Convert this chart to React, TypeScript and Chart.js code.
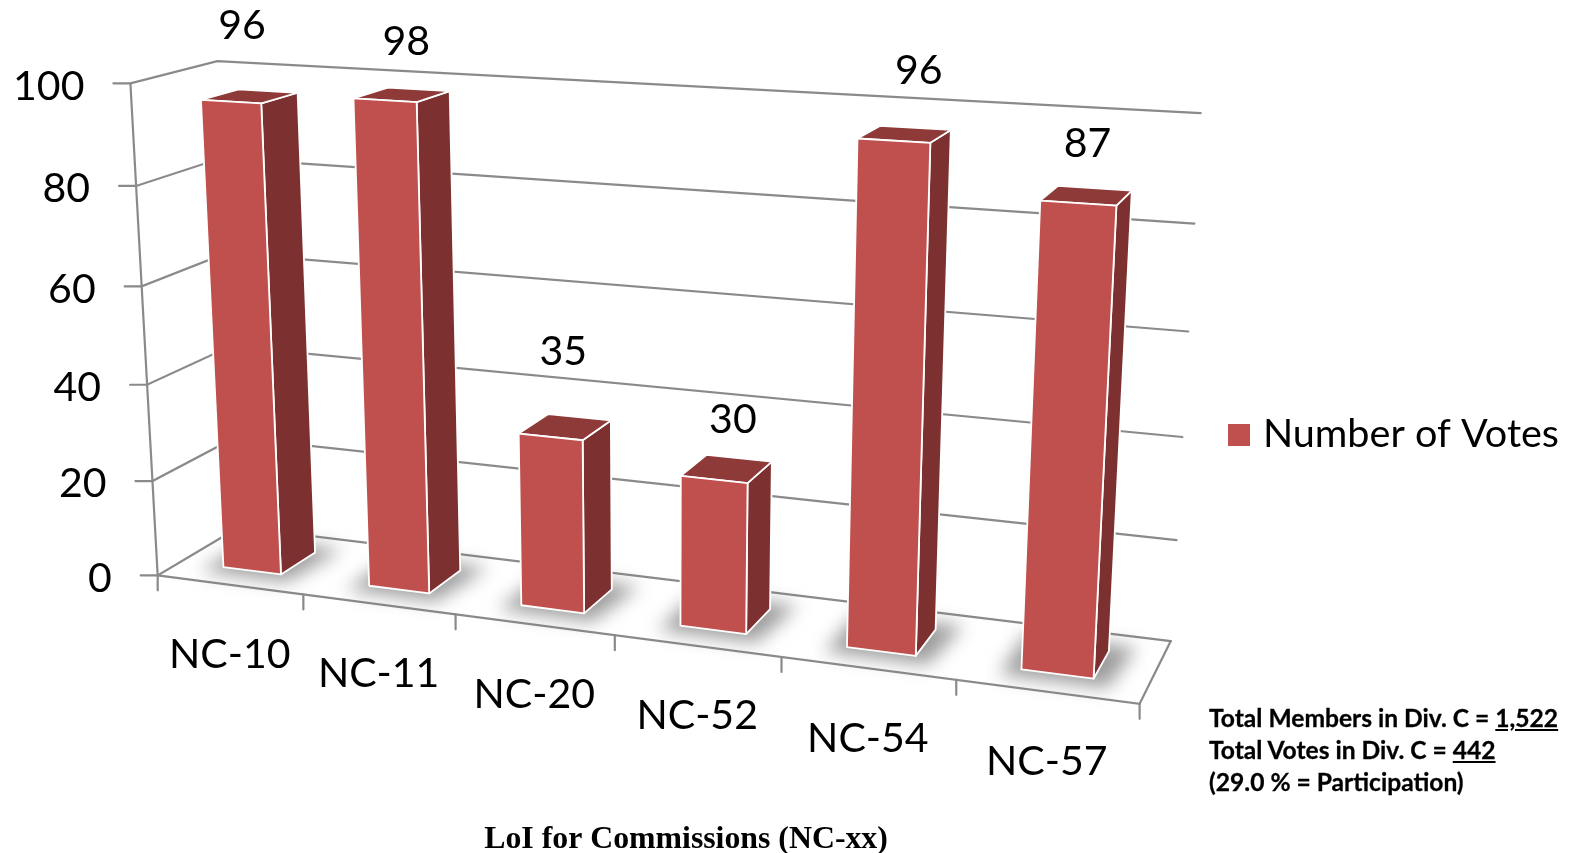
import React, { useEffect, useRef } from "react";
import { Chart, registerables } from "chart.js";

Chart.register(...registerables);

const categories = ["NC-10", "NC-11", "NC-20", "NC-52", "NC-54", "NC-57"];
const votes = [96, 98, 35, 30, 96, 87];
const seriesName = "Number of Votes";
const axisTitle = "LoI for Commissions (NC-xx)";
const noteMembers = 1522;
const noteVotes = 442;
const noteParticipation = "29.0";

// Camera calibration: box coordinates (u along categories, v up, w into the page) -> page pixels.
const CAMERA: number[][] = [
  [0, 0, 0, 158, 575],
  [1 / 6, 0, 0, 303, 595],
  [2 / 6, 0, 0, 455, 615],
  [5 / 6, 0, 0, 956, 680],
  [1, 0, 0, 1140, 703],
  [1, 0, 1, 1171, 641],
  [0, 0, 1, 239, 527],
  [0, 1, 0, 130, 83],
  [0, 0.8, 0, 137, 186],
  [0, 1, 1, 217, 61],
  [1, 1, 1, 1201, 113],
  [1, 0.8, 1, 1194, 224],
];
const DEPTH_FRONT = 0.275;
const DEPTH_BACK = 0.72;
// hand nudges of the value labels, as in the original slide (px)
const labelNudge: number[][] = [[-8, -70], [4, -53], [-2, -75], [6, -49], [14, -63], [1, -52]];

function solveCamera(): number[] {
  const n = 11;
  const M = Array.from({ length: n }, () => new Array(n + 1).fill(0));
  const add = (r: number[], b: number) => {
    for (let i = 0; i < n; i++) {
      for (let j = 0; j < n; j++) M[i][j] += r[i] * r[j];
      M[i][n] += r[i] * b;
    }
  };
  for (const [u, v, w, px, py] of CAMERA) {
    const x = px / 1000, y = py / 1000;
    add([u, v, w, 1, 0, 0, 0, 0, -x * u, -x * v, -x * w], x);
    add([0, 0, 0, 0, u, v, w, 1, -y * u, -y * v, -y * w], y);
  }
  for (let c = 0; c < n; c++) {
    let p = c;
    for (let r = c + 1; r < n; r++) if (Math.abs(M[r][c]) > Math.abs(M[p][c])) p = r;
    [M[c], M[p]] = [M[p], M[c]];
    for (let r = 0; r < n; r++) {
      if (r === c) continue;
      const f = M[r][c] / M[c][c];
      for (let k = c; k <= n; k++) M[r][k] -= f * M[c][k];
    }
  }
  return M.map((row, i) => row[n] / row[i]);
}
const P = solveCamera();
const project = (u: number, v: number, w: number): [number, number] => {
  const d = P[8] * u + P[9] * v + P[10] * w + 1;
  return [
    (1000 * (P[0] * u + P[1] * v + P[2] * w + P[3])) / d,
    (1000 * (P[4] * u + P[5] * v + P[6] * w + P[7])) / d,
  ];
};

const LABEL_FONT = "Lato, Carlito, sans-serif";
const GRID = "#8a8a8a";
const BAR_COLOR = "#c0504d";

function legendSwatch(): HTMLCanvasElement {
  const c = document.createElement("canvas");
  c.width = 22;
  c.height = 22;
  const g = c.getContext("2d")!;
  g.fillStyle = BAR_COLOR;
  g.fillRect(0, 0, 22, 22);
  return c;
}

function poly(ctx: CanvasRenderingContext2D, pts: [number, number][]) {
  ctx.beginPath();
  pts.forEach((p, i) => (i ? ctx.lineTo(p[0], p[1]) : ctx.moveTo(p[0], p[1])));
  ctx.closePath();
}
function seg(ctx: CanvasRenderingContext2D, a: [number, number], b: [number, number]) {
  ctx.beginPath();
  ctx.moveTo(a[0], a[1]);
  ctx.lineTo(b[0], b[1]);
  ctx.stroke();
}

const box3d = {
  id: "box3d",
  beforeDatasetsDraw(chart: any) {
    const { ctx } = chart;
    const yScale = chart.scales.y;
    ctx.save();
    ctx.strokeStyle = GRID;
    ctx.lineWidth = 2.2;
    ctx.lineCap = "round";
    for (const t of yScale.ticks) {
      const v = t.value / 100;
      const a = project(0, v, 0), b = project(0, v, 1), c = project(1, v, 1);
      ctx.beginPath();
      ctx.moveTo(a[0] - 17, a[1]);
      ctx.lineTo(a[0], a[1]);
      ctx.lineTo(b[0], b[1]);
      ctx.lineTo(c[0], c[1]);
      ctx.stroke();
    }
    seg(ctx, project(0, 0, 0), project(0, 1, 0));
    const fl = project(0, 0, 0), fr = project(1, 0, 0), br = project(1, 0, 1);
    ctx.beginPath();
    ctx.moveTo(fl[0], fl[1]);
    ctx.lineTo(fr[0], fr[1]);
    ctx.lineTo(br[0], br[1]);
    ctx.stroke();
    for (let i = 0; i <= categories.length; i++) {
      const p = project(i / categories.length, 0, 0);
      seg(ctx, p, [p[0], p[1] + 15]);
    }
    // tick labels
    ctx.fillStyle = "#000";
    ctx.font = `41px ${LABEL_FONT}`;
    ctx.textAlign = "right";
    ctx.textBaseline = "middle";
    for (const t of yScale.ticks) {
      const a = project(0, t.value / 100, 0);
      ctx.fillText(String(t.value), a[0] - 46, a[1] + 3);
    }
    ctx.textAlign = "center";
    categories.forEach((c, i) => {
      const p = project((i + 0.5) / categories.length, 0, 0);
      ctx.fillText(c, p[0], p[1] + 70);
    });
    ctx.restore();
  },
  beforeDatasetDraw(chart: any, args: any) {
    const { ctx, chartArea: ca } = chart;
    const meta = chart.getDatasetMeta(args.index);
    const U = (x: number) => (x - ca.left) / ca.width;
    const V = (y: number) => (ca.bottom - y) / ca.height;
    const w0 = DEPTH_FRONT, w1 = DEPTH_BACK;
    ctx.save();
    // soft floor shadows first
    for (const el of meta.data) {
      const a = U(el.x - el.width / 2), b = U(el.x + el.width / 2);
      const da = 0.016, dw = 0.11;
      ctx.save();
      ctx.filter = "blur(9px)";
      ctx.fillStyle = "rgba(115,115,115,0.7)";
      poly(ctx, [
        project(a - da, 0, w0 - dw),
        project(b + da, 0, w0 - dw),
        project(b + da * 1.4, 0, w1 + dw),
        project(a - da, 0, w1 + dw),
      ]);
      ctx.fill();
      ctx.restore();
    }
    for (const el of meta.data) {
      const a = U(el.x - el.width / 2), b = U(el.x + el.width / 2);
      const t = V(el.y);
      const front: [number, number][] = [project(a, 0, w0), project(b, 0, w0), project(b, t, w0), project(a, t, w0)];
      const side: [number, number][] = [project(b, 0, w0), project(b, 0, w1), project(b, t, w1), project(b, t, w0)];
      const top: [number, number][] = [project(a, t, w0), project(b, t, w0), project(b, t, w1), project(a, t, w1)];
      ctx.lineJoin = "round";
      ctx.strokeStyle = "#fff";
      ctx.lineWidth = 1.8;
      ctx.fillStyle = "#7c3130";
      poly(ctx, side); ctx.fill(); ctx.stroke();
      ctx.fillStyle = "#8e3a38";
      poly(ctx, top); ctx.fill(); ctx.stroke();
      ctx.fillStyle = BAR_COLOR;
      poly(ctx, front); ctx.fill(); ctx.stroke();
    }
    ctx.restore();
    return false;
  },
  afterDatasetsDraw(chart: any) {
    const { ctx, chartArea: ca } = chart;
    const meta = chart.getDatasetMeta(0);
    ctx.save();
    ctx.fillStyle = "#000";
    ctx.font = `41px ${LABEL_FONT}`;
    ctx.textAlign = "center";
    ctx.textBaseline = "middle";
    meta.data.forEach((el: any, i: number) => {
      const p = project((el.x - ca.left) / ca.width, (ca.bottom - el.y) / ca.height, 0.5);
      ctx.fillText(String(votes[i]), p[0] + labelNudge[i][0], p[1] + labelNudge[i][1]);
    });
    ctx.restore();
  },
};

export default function App() {
  const ref = useRef<HTMLCanvasElement>(null);
  useEffect(() => {
    const chart = new Chart(ref.current!, {
      type: "bar",
      data: {
        labels: categories,
        datasets: [{ label: seriesName, data: votes, backgroundColor: BAR_COLOR, barPercentage: 0.4, categoryPercentage: 1 }],
      },
      plugins: [box3d as any],
      options: {
        responsive: false,
        animation: false,
        layout: { padding: { left: 139, top: 10, right: 8, bottom: -6 } },
        plugins: {
          tooltip: { enabled: false },
          legend: {
            position: "right",
            labels: {
              usePointStyle: true,
              pointStyle: legendSwatch(),
              pointStyleWidth: 8,
              boxHeight: 22,
              color: "#000",
              font: { family: LABEL_FONT, size: 39.6 },
            },
          },
        },
        scales: {
          x: {
            grid: { display: false },
            border: { display: false },
            ticks: { display: false },
            title: {
              display: true,
              text: axisTitle,
              color: "#000",
              padding: { top: 4, bottom: 0 },
              font: { family: "'Liberation Serif', serif", size: 31.8, weight: "bold" },
            },
          },
          y: {
            min: 0,
            max: 100,
            grid: { display: false },
            border: { display: false },
            ticks: { display: false, stepSize: 20 },
          },
        },
      },
    } as any);
    return () => chart.destroy();
  }, []);
  return (
    <div style={{ position: "absolute", left: 0, top: 0, width: 1577, height: 853, overflow: "hidden", background: "#fff" }}>
      <canvas ref={ref} width={1577} height={853} style={{ display: "block" }} />
      <div style={{ position: "absolute", left: 1209, top: 702, font: "bold 24.6px/32px Lato, sans-serif", WebkitTextStroke: "0.3px #000", color: "#000", whiteSpace: "nowrap" }}>
        <div>Total Members in Div. C = <u>{noteMembers.toLocaleString("en-US")}</u></div>
        <div>Total Votes in Div. C = <u>{noteVotes}</u></div>
        <div>({noteParticipation} % = Participation)</div>
      </div>
    </div>
  );
}
